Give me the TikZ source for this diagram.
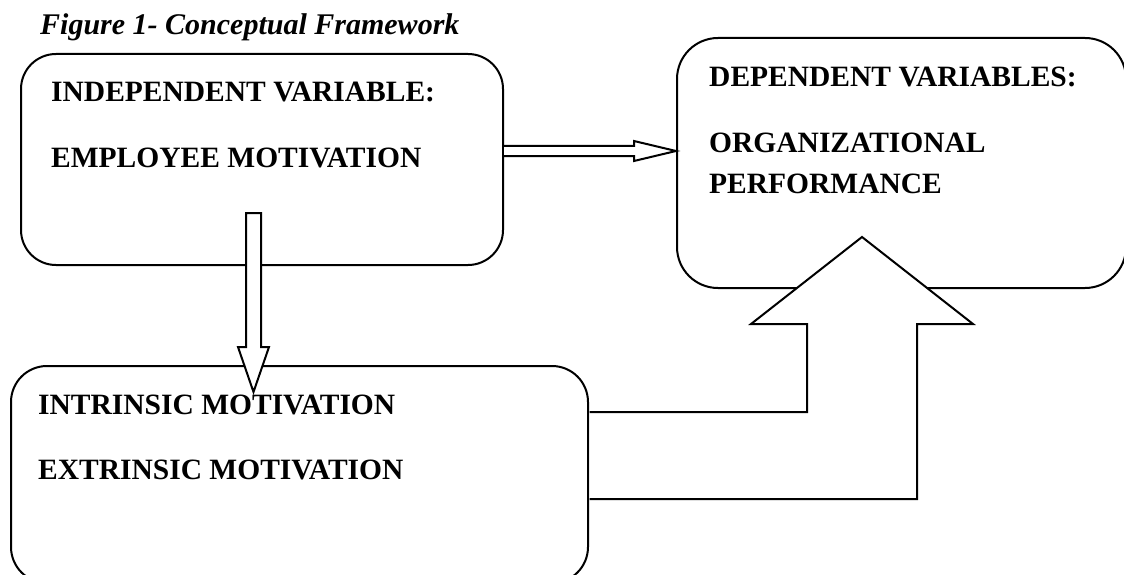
\documentclass[tikz,border=0pt]{standalone}
\usepackage{fontspec}
\setmainfont{Liberation Serif}
\usetikzlibrary{calc}
\tikzset{>=stealth}
\tikzset{
    box/.style={draw, line width=2pt, inner sep=0pt},
    lbl/.style={anchor=base west, inner sep=0pt, font=\bfseries\fontsize{29.5}{35}\selectfont},
    blockarrow/.style={draw, line width=2pt, fill=white, line join=miter}
}

\begin{document}
\begin{tikzpicture}[x=1pt,y=-1pt]
                \useasboundingbox (0,0) rectangle (1124,575);
                \clip (0,0) rectangle (1124,575);
                \node[lbl, font=\bfseries\itshape\fontsize{30}{35}\selectfont] (title) at (40,35) {Figure 1- Conceptual Framework};
                % the three boxes
                \node[box, rounded corners=35pt, minimum width=482pt, minimum height=211pt] (indep) at (262,159.5) {};
                \node[box, rounded corners=41pt, minimum width=449pt, minimum height=250pt] (dep) at (901.5,163) {};
                \node[box, rounded corners=36pt, minimum width=577pt, minimum height=217pt] (intr) at (299.5,474.5) {};
                \node[lbl] (indeptxt) at (51,102) {INDEPENDENT VARIABLE:}
                    node[lbl] (emptxt) at (51,167) {EMPLOYEE MOTIVATION};
                \node[lbl] (deptxt) at (709,87) {DEPENDENT VARIABLES:}
                    node[lbl] (orgtxt) at (709,153) {ORGANIZATIONAL}
                    node[lbl] (perftxt) at (709,193) {PERFORMANCE};
                \node[lbl] (intrtxt) at (38,414) {INTRINSIC MOTIVATION}
                    node[lbl] (extrtxt) at (38,479) {EXTRINSIC MOTIVATION};
                % block arrows
                \coordinate (rtip) at (dep.west |- 0,151);
                \draw[blockarrow] (indep.east |- 0,146) -- (634,146) -- (634,141) -- (rtip)
                    -- (634,161) -- (634,156) -- (indep.east |- 0,156);
                \coordinate (dtip) at (253.5,392);
                \draw[blockarrow] (246,213) -- (246,347) -- (238,347) -- (dtip)
                    -- (269,347) -- (261,347) -- (261,213) -- cycle;
                \coordinate (utip) at (862,237);
                \draw[blockarrow] ($(intr.east |- 0,412)+(0.5,0)$) -- (807,412) -- (807,324) -- (751,324) -- (utip)
                    -- (973,324) -- (917,324) -- (917,499) -- ($(intr.east |- 0,499)+(0.5,0)$);
    \end{tikzpicture}
\end{document}
